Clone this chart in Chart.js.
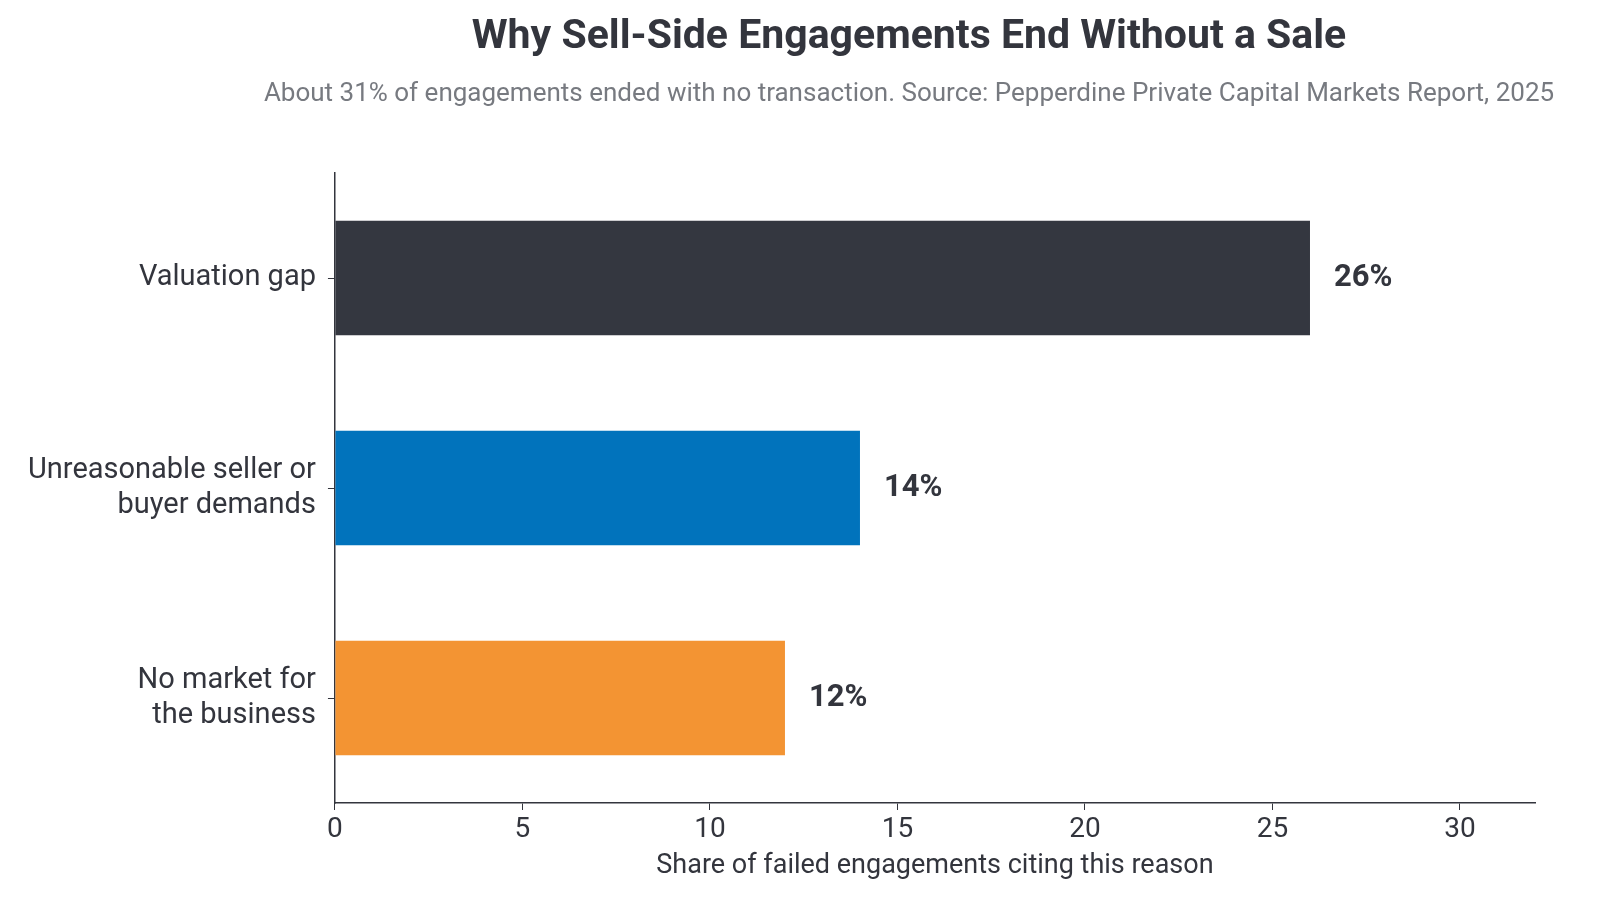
<!DOCTYPE html>
<html><head><meta charset="utf-8">
<script src="https://cdn.jsdelivr.net/npm/chart.js@4/dist/chart.umd.min.js"></script>
<style>html,body{margin:0;padding:0;background:#fff}#w{width:1602px;height:908px}</style>
</head><body><div id="w"><canvas id="c"></canvas></div>
<script>
const categories = [["Valuation gap"], ["Unreasonable seller or","buyer demands"], ["No market for","the business"]];
const values = [26, 14, 12];
const colors = ["#343740", "#0173BC", "#F39433"];
const titleText = "Why Sell-Side Engagements End Without a Sale";
const subtitleText = "About 31% of engagements ended with no transaction. Source: Pepperdine Private Capital Markets Report, 2025";
const xTitle = "Share of failed engagements citing this reason";
const ink = "#33353d";

const headPlugin = {
  id: 'head',
  afterDraw(chart) {
    const ctx = chart.ctx;
    ctx.save();
    ctx.textAlign = 'center'; ctx.textBaseline = 'middle';
    ctx.fillStyle = ink;
    ctx.font = 'bold 41px Roboto';
    ctx.fillText(titleText, 909, 38);
    ctx.fillStyle = '#777a80';
    ctx.font = '26px Roboto';
    ctx.fillText(subtitleText, 909, 94);
    const meta = chart.getDatasetMeta(0);
    ctx.fillStyle = ink; ctx.textAlign = 'left';
    ctx.font = 'bold 31px Roboto';
    meta.data.forEach((b, i) => ctx.fillText(values[i] + '%', b.x + 24, b.y));
    ctx.restore();
  }
};

new Chart(document.getElementById('c'), {
  type: 'bar',
  data: { labels: categories, datasets: [{ data: values, backgroundColor: colors, barPercentage: 0.545, categoryPercentage: 1 }] },
  options: {
    indexAxis: 'y', responsive: true, maintainAspectRatio: false, animation: false,
    layout: { padding: { top: 173, right: 67, left: 16, bottom: 22 } },
    plugins: { legend: { display: false }, tooltip: { enabled: false } },
    scales: {
      x: { min: 0, max: 32,
        ticks: { stepSize: 5, color: ink, font: { family: 'Roboto', size: 28 }, padding: 3,
          callback: v => v % 5 === 0 && v <= 30 ? v : null },
        grid: { drawOnChartArea: false, drawTicks: true, tickLength: 7, color: ink },
        border: { color: ink, width: 1.5 },
        title: { display: true, text: xTitle, color: ink, font: { family: 'Roboto', size: 27 }, padding: { top: 0 } } },
      y: { ticks: { color: ink, font: { family: 'Roboto', size: 29 }, padding: 12 },
        grid: { offset: false, drawOnChartArea: false, drawTicks: true, tickLength: 7, color: ink },
        border: { color: ink, width: 1.5 } }
    }
  },
  plugins: [headPlugin]
});
</script></body></html>
